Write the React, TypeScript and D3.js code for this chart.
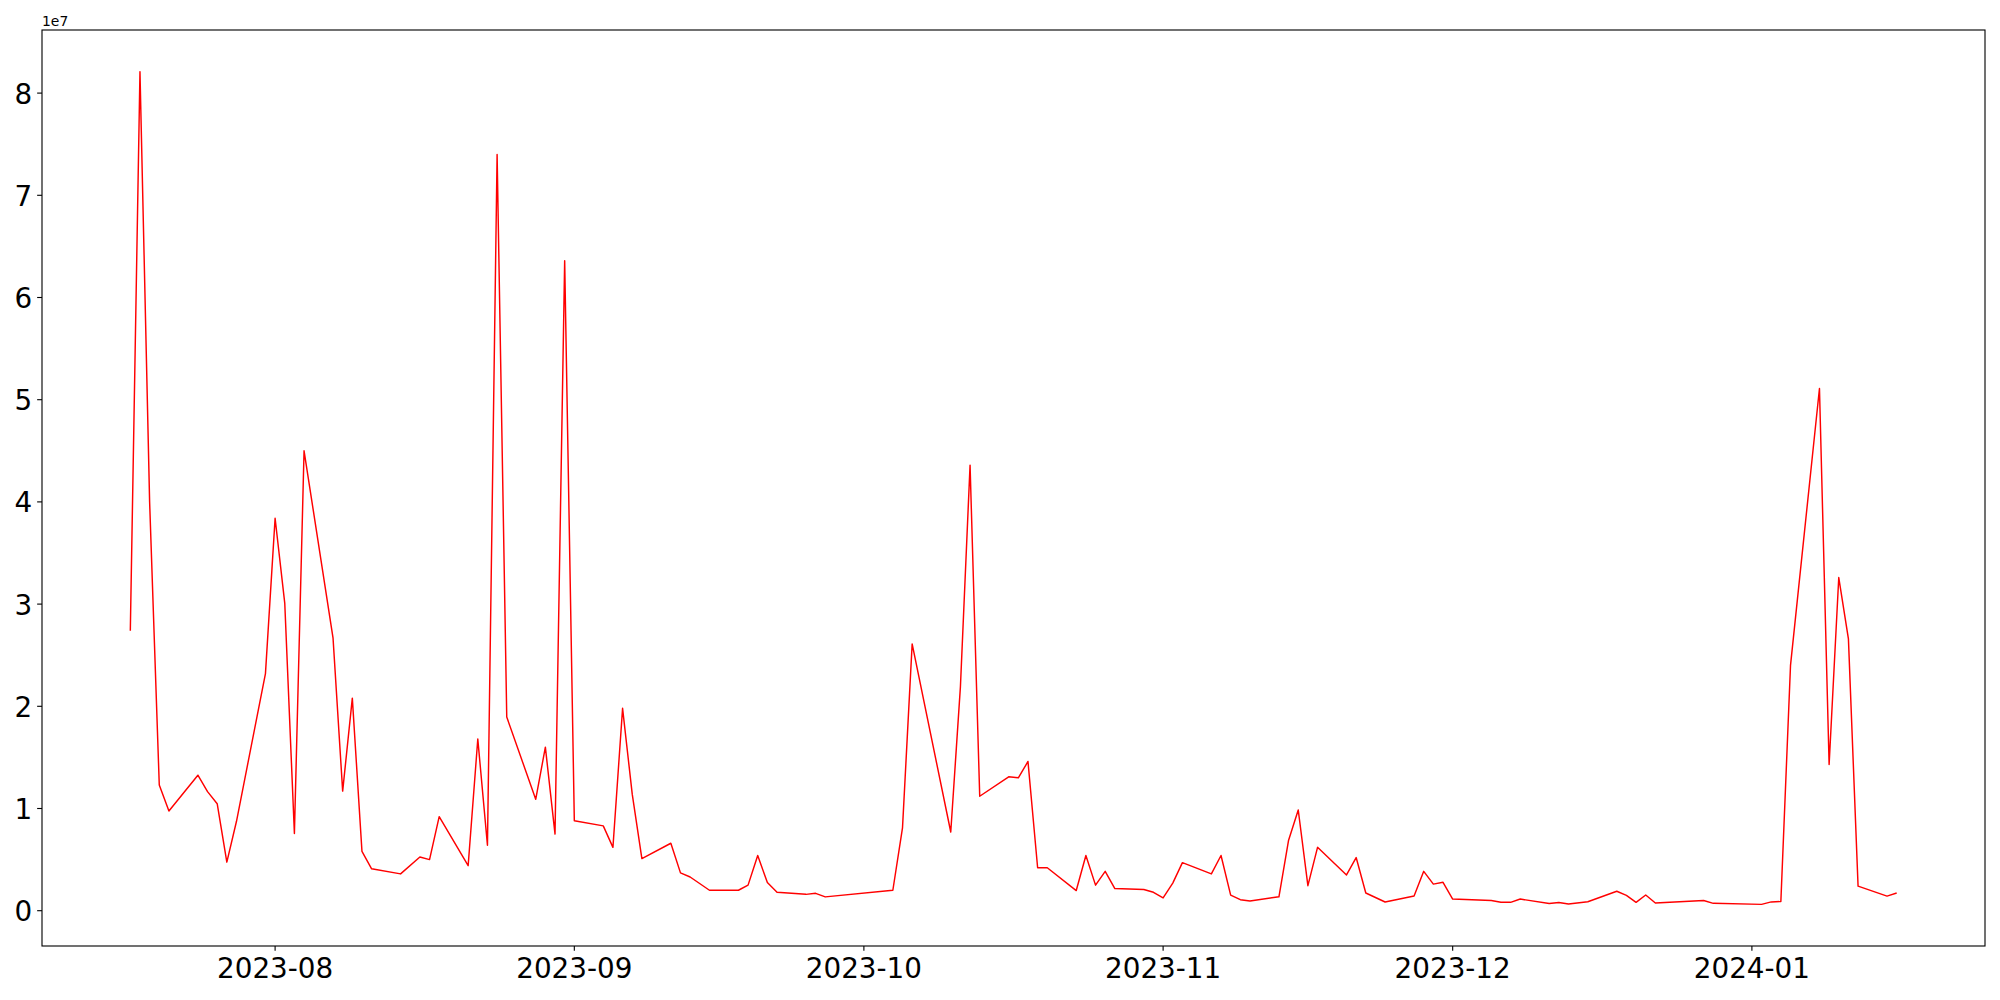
import React from "react";
import * as d3 from "d3";

const dates: string[] = [
  "2023-07-17","2023-07-18","2023-07-19","2023-07-20","2023-07-21","2023-07-24","2023-07-25","2023-07-26","2023-07-27","2023-07-28","2023-07-31",
  "2023-08-01","2023-08-02","2023-08-03","2023-08-04","2023-08-07","2023-08-08","2023-08-09","2023-08-10","2023-08-11","2023-08-14","2023-08-16","2023-08-17","2023-08-18","2023-08-21","2023-08-22","2023-08-23","2023-08-24","2023-08-25","2023-08-28","2023-08-29","2023-08-30","2023-08-31",
  "2023-09-01","2023-09-04","2023-09-05","2023-09-06","2023-09-07","2023-09-08","2023-09-11","2023-09-12","2023-09-13","2023-09-15","2023-09-18","2023-09-19","2023-09-20","2023-09-21","2023-09-22","2023-09-25","2023-09-26","2023-09-27",
  "2023-10-04","2023-10-05","2023-10-06","2023-10-10","2023-10-11","2023-10-12","2023-10-13","2023-10-16","2023-10-17","2023-10-18","2023-10-19","2023-10-20","2023-10-23","2023-10-24","2023-10-25","2023-10-26","2023-10-27","2023-10-30","2023-10-31",
  "2023-11-01","2023-11-02","2023-11-03","2023-11-06","2023-11-07","2023-11-08","2023-11-09","2023-11-10","2023-11-13","2023-11-14","2023-11-15","2023-11-16","2023-11-17","2023-11-20","2023-11-21","2023-11-22","2023-11-24","2023-11-27","2023-11-28","2023-11-29","2023-11-30",
  "2023-12-01","2023-12-05","2023-12-06","2023-12-07","2023-12-08","2023-12-11","2023-12-12","2023-12-13","2023-12-15","2023-12-18","2023-12-19","2023-12-20","2023-12-21","2023-12-22","2023-12-27","2023-12-28",
  "2024-01-02","2024-01-03","2024-01-04","2024-01-05","2024-01-08","2024-01-09","2024-01-10","2024-01-11","2024-01-12","2024-01-15","2024-01-16",
];

// values in units of 1e7
const valuesE7: number[] = [
  2.74, 8.21, 4.0, 1.23, 0.975, 1.326, 1.165, 1.047, 0.475, 0.875, 2.32,
  3.84, 3.01, 0.756, 4.5, 2.67, 1.17, 2.08, 0.58, 0.41, 0.36, 0.525, 0.5, 0.92, 0.44, 1.68, 0.64, 7.4, 1.895, 1.09, 1.6, 0.75, 6.36,
  0.88, 0.83, 0.62, 1.98, 1.14, 0.51, 0.66, 0.37, 0.33, 0.2, 0.2, 0.25, 0.54, 0.275, 0.18, 0.16, 0.17, 0.135,
  0.2, 0.81, 2.61, 0.77, 2.19, 4.36, 1.12, 1.31, 1.3, 1.46, 0.42, 0.42, 0.197, 0.54, 0.25, 0.385, 0.217, 0.207, 0.18,
  0.125, 0.27, 0.47, 0.36, 0.54, 0.153, 0.108, 0.095, 0.136, 0.69, 0.985, 0.245, 0.62, 0.35, 0.52, 0.173, 0.085, 0.144, 0.385, 0.26, 0.278,
  0.114, 0.1, 0.082, 0.082, 0.114, 0.07, 0.08, 0.065, 0.088, 0.19, 0.15, 0.082, 0.154, 0.075, 0.1, 0.072,
  0.062, 0.086, 0.09, 2.4, 5.11, 1.43, 3.26, 2.66, 0.24, 0.143, 0.173,
];

const yTicks: number[] = [0, 1, 2, 3, 4, 5, 6, 7, 8];
const xTickLabels: string[] = ["2023-08", "2023-09", "2023-10", "2023-11", "2023-12", "2024-01"];

const W = 2000;
const H = 1000;
const left = 42;
const right = 1985;
const top = 30;
const bottom = 946;
const FONT = "DejaVu Sans, sans-serif";

export default function App() {
  const parse = d3.utcParse("%Y-%m-%d");
  const parseMonth = d3.utcParse("%Y-%m");
  const data = dates.map((d, i) => ({ date: parse(d) as Date, value: valuesE7[i] * 1e7 }));

  const [xmin, xmax] = d3.extent(data, (d) => d.date.getTime()) as [number, number];
  const xpad = (xmax - xmin) * 0.05;
  const x = d3.scaleUtc().domain([new Date(xmin - xpad), new Date(xmax + xpad)]).range([left, right]);

  const [ymin, ymax] = d3.extent(data, (d) => d.value) as [number, number];
  const ypad = (ymax - ymin) * 0.05;
  const y = d3.scaleLinear().domain([ymin - ypad, ymax + ypad]).range([bottom, top]);

  const line = d3
    .line<{ date: Date; value: number }>()
    .x((d) => x(d.date))
    .y((d) => y(d.value));

  const tickLen = 4.86;
  const tickPad = 4.86;
  const fs = 27.8;

  return (
    <svg width={W} height={H} style={{ position: "fixed", left: 0, top: 0, background: "#fff" }}>
      <rect x={0} y={0} width={W} height={H} fill="#fff" />
      <path d={line(data) || ""} fill="none" stroke="#ff0000" strokeWidth={1.45} strokeLinejoin="round" />
      <rect x={left} y={top} width={right - left} height={bottom - top} fill="none" stroke="#000" strokeWidth={1.11} />
      {yTicks.map((t) => {
        const yy = y(t * 1e7);
        return (
          <g key={"y" + t}>
            <line x1={left - tickLen} x2={left} y1={yy} y2={yy} stroke="#000" strokeWidth={1.11} />
            <text x={left - tickLen - tickPad} y={yy + 10.5} textAnchor="end" fontFamily={FONT} fontSize={fs} fill="#000">
              {t}
            </text>
          </g>
        );
      })}
      {xTickLabels.map((lbl) => {
        const xx = x(parseMonth(lbl) as Date);
        return (
          <g key={"x" + lbl}>
            <line x1={xx} x2={xx} y1={bottom} y2={bottom + tickLen} stroke="#000" strokeWidth={1.11} />
            <text x={xx} y={bottom + tickLen + tickPad + 22.5} textAnchor="middle" fontFamily={FONT} fontSize={fs} fill="#000">
              {lbl}
            </text>
          </g>
        );
      })}
      <text x={left} y={26} fontFamily={FONT} fontSize={13.9} fill="#000">
        1e7
      </text>
    </svg>
  );
}
